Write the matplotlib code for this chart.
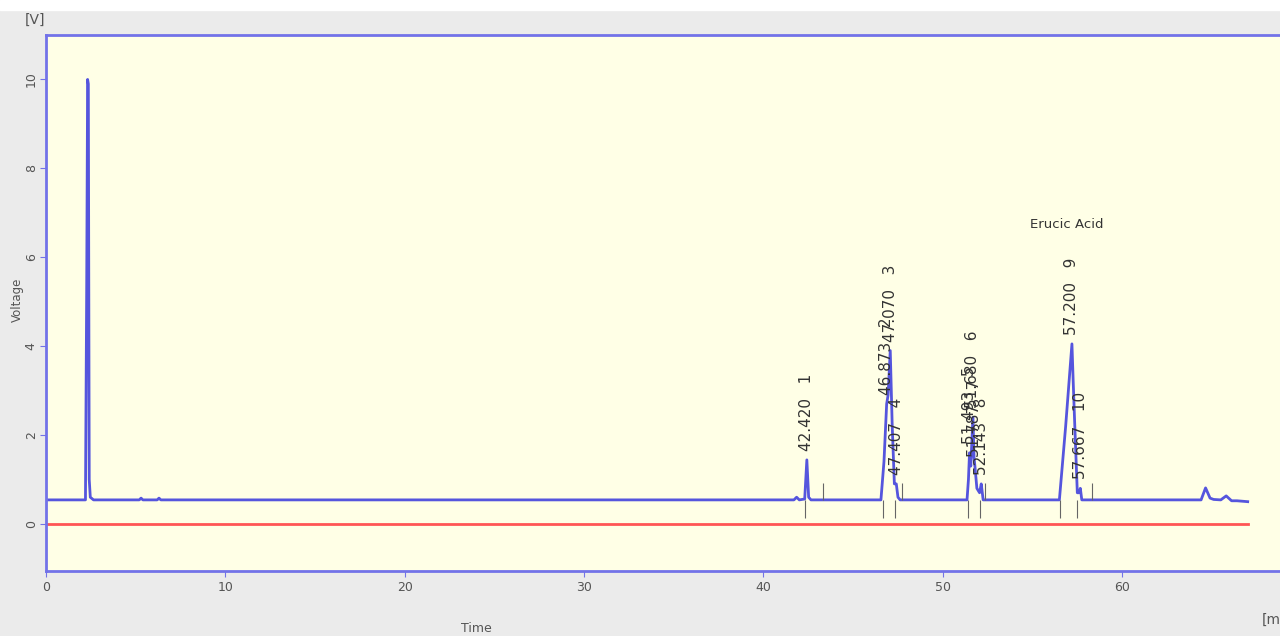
import matplotlib.pyplot as plt
from matplotlib.patches import Rectangle

# chromatogram trace (time in min, voltage in V)
time = [0.0, 2.2, 2.27, 2.32, 2.36, 2.41, 2.47, 2.65, 5.2, 5.3, 5.4, 6.2, 6.3, 6.4,
        41.7, 41.85, 42.0, 42.3, 42.42, 42.52, 42.65,
        46.55, 46.72, 46.87, 46.95, 47.07, 47.18, 47.3, 47.407, 47.5, 47.62,
        51.35, 51.43, 51.49, 51.56, 51.68, 51.74, 51.79, 51.9, 52.05, 52.143, 52.25,
        56.5, 56.85, 57.2, 57.27, 57.35, 57.5, 57.6, 57.667, 57.75,
        64.4, 64.65, 64.9, 65.1, 65.5, 65.8, 66.1, 66.4, 67.0]
voltage = [0.54, 0.54, 5.4, 10.0, 9.9, 1.0, 0.6, 0.54, 0.54, 0.58, 0.54, 0.54, 0.58, 0.54,
           0.54, 0.6, 0.54, 0.56, 1.44, 0.6, 0.54,
           0.54, 1.4, 2.7, 2.9, 3.9, 2.2, 0.9, 0.9, 0.6, 0.54,
           0.54, 1.0, 1.6, 1.3, 2.4, 1.5, 1.3, 0.8, 0.7, 0.9, 0.54,
           0.54, 2.2, 4.05, 3.2, 2.3, 0.7, 0.7, 0.8, 0.54,
           0.54, 0.81, 0.58, 0.55, 0.54, 0.63, 0.52, 0.52, 0.5]

# peak table
peak_rt = [42.420, 46.873, 47.070, 47.407, 51.493, 51.680, 51.787, 52.143, 57.200, 57.667]
peak_h = [1.44, 2.7, 3.9, 0.9, 1.6, 2.4, 1.3, 0.9, 4.05, 0.8]
peak_no = [1, 2, 3, 4, 5, 6, 7, 8, 9, 10]

# integration markers
start_marks = [42.33, 46.69, 47.35, 51.42, 52.09, 56.55, 57.5]
end_marks = [43.33, 47.74, 52.37, 58.34]

baseline = 0.54
frame = '#7272e8'
trace = '#5555dd'
txt = '#555555'
narrow = ['Liberation Sans Narrow', 'DejaVu Sans']

fig = plt.figure(figsize=(12.8, 6.36), dpi=100, facecolor='#ebebeb')
fig.patches.append(Rectangle((0, 1 - 10 / 636), 1, 10 / 636,
                             transform=fig.transFigure, color='white', zorder=0))
ax = fig.add_axes([46 / 1280, 1 - 571 / 636, 1 - 46 / 1280, (571 - 35) / 636])
ax.set_facecolor('#ffffe6')

ax.axhline(0, color='#ff5555', lw=2, xmax=67.0 / 68.8)
ax.plot(time, voltage, color=trace, lw=2)
ax.vlines(start_marks, 0.14, baseline, color='#666666', lw=0.8)
ax.vlines(end_marks, baseline, 0.92, color='#666666', lw=0.8)

for rt, h, n in zip(peak_rt, peak_h, peak_no):
    ax.text(rt, h + 0.2, f"{rt:.3f}   {n}", rotation=90, ha='center', va='bottom',
            fontsize=11, color='#333333')
ax.text(56.9, 6.6, "Erucic Acid", ha='center', va='bottom', fontsize=9.5,
        color='#333333', family=narrow)

ax.set_xlim(0, 68.8)
ax.set_ylim(-1.06, 11.0)
ax.set_xticks(range(0, 70, 10))
ax.set_yticks(range(0, 12, 2))
for s in ['top', 'bottom', 'left']:
    ax.spines[s].set_color(frame)
    ax.spines[s].set_linewidth(2)
ax.spines['right'].set_visible(False)
ax.tick_params(colors=frame, labelcolor=txt, labelsize=9, length=4)
ax.tick_params(axis='y', pad=2)
for lab in ax.get_yticklabels():
    lab.set_rotation(90)
    lab.set_va('center')
for lab in ax.get_xticklabels():
    lab.set_family(narrow)

fig.text(17 / 1280, 1 - 300 / 636, "Voltage", rotation=90, ha='center', va='center',
         fontsize=8.5, color=txt)
fig.text(35 / 1280, 1 - 20 / 636, "[V]", ha='center', va='center', fontsize=10,
         color=txt, family=narrow)
fig.text(476 / 1280, 1 - 628 / 636, "Time", ha='center', va='center', fontsize=9,
         color=txt, family=narrow)
fig.text(1262 / 1280, 1 - 620 / 636, "[min]", ha='left', va='center', fontsize=10,
         color=txt, family=narrow)

fig.savefig('out.png', dpi=100, facecolor=fig.get_facecolor())
